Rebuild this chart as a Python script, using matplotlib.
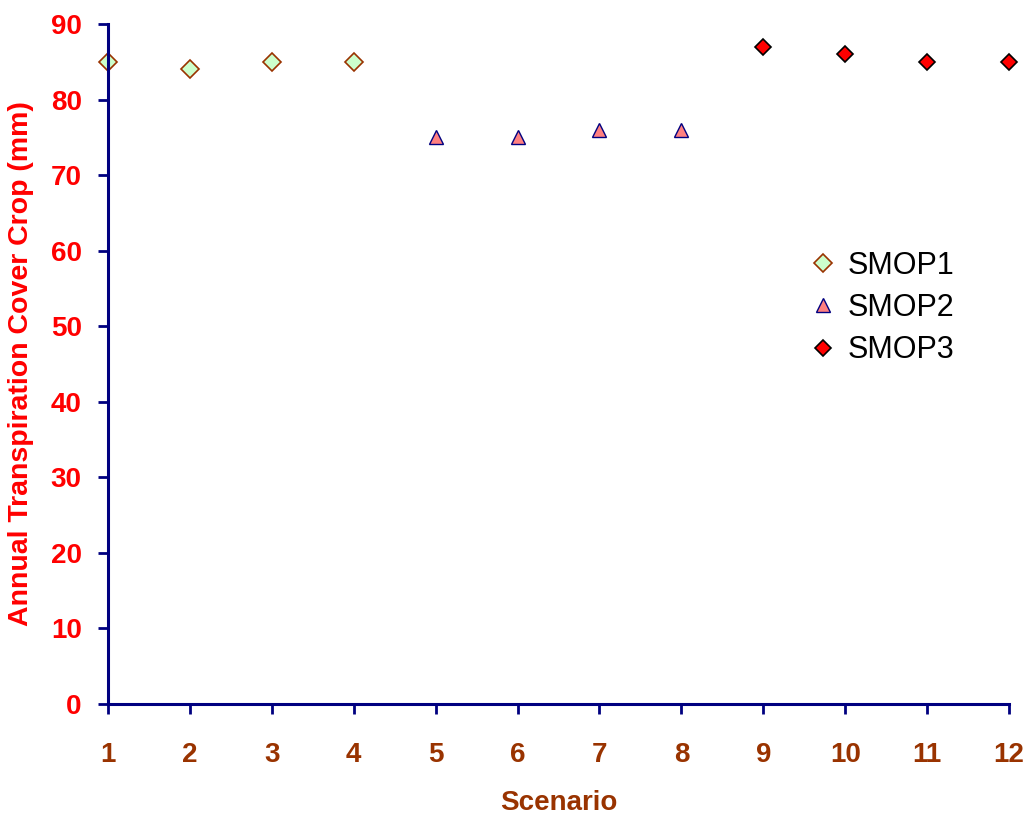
import matplotlib
matplotlib.use('Agg')
from matplotlib import pyplot as plt

plt.rcParams['font.family'] = ['Liberation Sans', 'DejaVu Sans']

# Daten
scen_smop1 = [1, 2, 3, 4]
vals_smop1 = [85, 84, 85, 85]
scen_smop2 = [5, 6, 7, 8]
vals_smop2 = [75, 75, 76, 76]
scen_smop3 = [9, 10, 11, 12]
vals_smop3 = [87, 86, 85, 85]
x_ticks = list(range(1, 13))
y_ticks = list(range(0, 91, 10))

navy = '#000080'
red = '#ff0000'
brown = '#993300'

fig = plt.figure(figsize=(10.29, 8.17), dpi=100)
ax = fig.add_axes([0.105, 0.1383, 0.8756, 0.8323])

ax.plot(scen_smop1, vals_smop1, linestyle='none', marker='D', markersize=9,
        markerfacecolor='#ccffcc', markeredgecolor=brown, markeredgewidth=1.2,
        label='SMOP1', clip_on=False)
ax.plot(scen_smop2, vals_smop2, linestyle='none', marker='^', markersize=10,
        markerfacecolor='#ff8080', markeredgecolor=navy, markeredgewidth=1.0,
        label='SMOP2', clip_on=False)
ax.plot(scen_smop3, vals_smop3, linestyle='none', marker='D', markersize=8,
        markerfacecolor=red, markeredgecolor='black', markeredgewidth=1.2,
        label='SMOP3', clip_on=False)

ax.set_xlim(1, 12)
ax.set_ylim(0, 90)
ax.set_xticks(x_ticks)
ax.set_yticks(y_ticks)

for side in ['top', 'right']:
    ax.spines[side].set_visible(False)
for side in ['left', 'bottom']:
    ax.spines[side].set_color(navy)
    ax.spines[side].set_linewidth(2.2)

ax.tick_params(axis='both', direction='out', color=navy, width=2, length=7)
ax.tick_params(axis='x', labelsize=20, labelcolor=brown, pad=20)
ax.tick_params(axis='y', labelsize=20, labelcolor=red, pad=12)
for lbl in ax.get_xticklabels() + ax.get_yticklabels():
    lbl.set_fontweight('bold')

ax.set_xlabel('Scenario', fontsize=20, fontweight='bold', color=brown, labelpad=16)
ax.set_ylabel('Annual Transpiration Cover Crop (mm)', fontsize=20.5, fontweight='bold',
              color=red, labelpad=12)

ax.legend(loc='upper left', bbox_to_anchor=(0.743, 0.707), frameon=False,
          fontsize=22, handletextpad=0.2, labelspacing=0.4, handlelength=1.2)

plt.savefig('out.png', dpi=100)
plt.close(fig)
